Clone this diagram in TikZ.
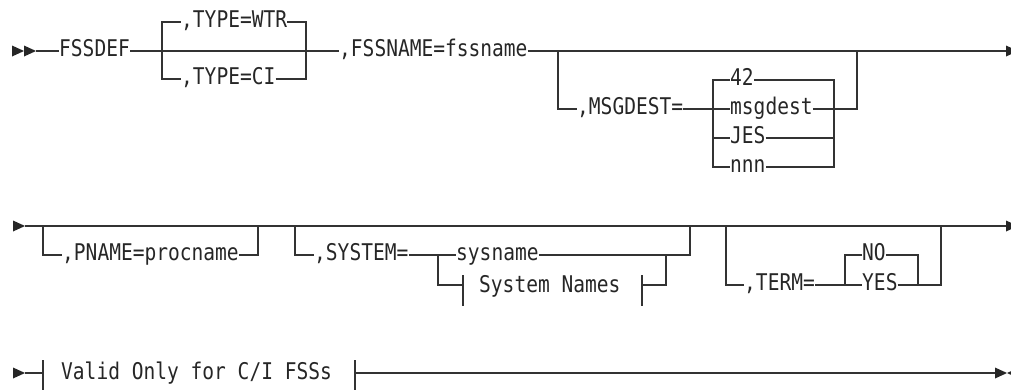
\documentclass[tikz,border=0pt]{standalone}
\usepackage{fontspec}
\newfontfamily\railfont[FakeStretch=0.85]{DejaVu Sans Mono}
\usetikzlibrary{arrows.meta}

\begin{document}
\begin{tikzpicture}[
    x=1pt, y=-1pt,
    kw/.style={
      inner sep=0pt,
      anchor=west,
      text height=17.4pt,
      text depth=6pt,
      font=\railfont\fontsize{23}{23}\selectfont,
      text=black!85
    },
    rail/.style={
      draw=black!80,
      line width=1.2pt
    },
    railtip/.pic={
      \fill[black!85] (0,-5.5) -- (12,0) -- (0,5.5) -- cycle;
    }
  ]
  \useasboundingbox (0,0) rectangle (1011,389);

  % row 1
  \node[kw] (fssdef)  at (59,51)   {FSSDEF};
  \node[kw] (wtr)     at (181,22)  {,TYPE=WTR};
  \node[kw] (ci)      at (181,79)  {,TYPE=CI};
  \node[kw] (fssname) at (339,51)  {,FSSNAME=fssname};
  \node[kw] (msgdest) at (577,109) {,MSGDEST=};
  \node[kw] (d42)     at (730,80)  {42};
  \node[kw] (dmsg)    at (730,109) {msgdest};
  \node[kw] (djes)    at (730,138) {JES};
  \node[kw] (dnnn)    at (730,167) {nnn};
  \coordinate (s1) at (36,51);
  \coordinate (e1) at (1006,51);
  \coordinate (t1) at (162,51);
  \coordinate (t2) at (306,51);
  \coordinate (m1) at (558,51);
  \coordinate (m2) at (857,51);
  \coordinate (ml) at (713,0);
  \coordinate (mr) at (834,0);

  \pic at (12,51) {railtip};
  \pic at (24,51) {railtip};
  \pic at (e1) {railtip};
  \draw[rail] (s1) -- (fssdef.west);
  \draw[rail] (fssdef.east) -- (fssname.west);
  \draw[rail] (t1) |- (wtr.west);
  \draw[rail] (wtr.east) -| (t2);
  \draw[rail] (t1) |- (ci.west);
  \draw[rail] (ci.east) -| (t2);
  \draw[rail] (fssname.east) -- (e1);
  \draw[rail] (m1) |- (msgdest.west);
  \draw[rail] (msgdest.east) -- (dmsg.west);
  \draw[rail] (d42.west) -| (ml |- dnnn.west) -- (dnnn.west);
  \draw[rail] (ml |- djes.west) -- (djes.west);
  \draw[rail] (d42.east) -| (mr |- dnnn.east) -- (dnnn.east);
  \draw[rail] (djes.east) -- (mr |- djes.east);
  \draw[rail] (dmsg.east) -| (m2);

  % row 2
  \node[kw] (pname)    at (62,255)  {,PNAME=procname};
  \node[kw] (system)   at (314,255) {,SYSTEM=};
  \node[kw] (sysname)  at (456,255) {sysname};
  \node[kw] (sysnames) at (479,287) {System Names};
  \node[kw] (term)     at (744,285) {,TERM=};
  \node[kw] (no)       at (862,255) {NO};
  \node[kw] (yes)      at (862,285) {YES};
  \coordinate (s2) at (25,226);
  \coordinate (e2) at (1006,226);
  \coordinate (p1) at (43,226);
  \coordinate (p2) at (258,226);
  \coordinate (y1) at (295,226);
  \coordinate (y2) at (690,226);
  \coordinate (yl) at (438,0);
  \coordinate (yr) at (666,0);
  \coordinate (k1) at (463,285);
  \coordinate (k2) at (642,285);
  \coordinate (r1) at (726,226);
  \coordinate (r2) at (941,226);
  \coordinate (tl) at (845,0);
  \coordinate (tr) at (918,0);

  \pic at (13,226) {railtip};
  \pic at (e2) {railtip};
  \draw[rail] (s2) -- (e2);
  \draw[rail] (p1) |- (pname.west);
  \draw[rail] (pname.east) -| (p2);
  \draw[rail] (y1) |- (system.west);
  \draw[rail] (system.east) -- (sysname.west);
  \draw[rail] (sysname.east) -| (y2);
  \draw[rail] (yl |- system.east) |- (k1);
  \draw[rail] (k2) -| (yr |- sysname.east);
  \draw[rail] ([yshift=10pt]k1) -- ([yshift=-21pt]k1);
  \draw[rail] ([yshift=10pt]k2) -- ([yshift=-21pt]k2);
  \draw[rail] (r1) |- (term.west);
  \draw[rail] (term.east) -- (yes.west);
  \draw[rail] (no.west) -| (tl |- yes.west);
  \draw[rail] (no.east) -| (tr |- yes.east);
  \draw[rail] (yes.east) -| (r2);

  % row 3
  \node[kw] (valid) at (61,374) {Valid Only for C/I FSSs};
  \coordinate (s3) at (25,373);
  \coordinate (e3) at (995,373);
  \coordinate (v1) at (43,373);
  \coordinate (v2) at (355,373);

  \pic at (13,373) {railtip};
  \pic at (e3) {railtip};
  \pic[rotate=180] at (1019,373) {railtip};
  \draw[rail] (s3) -- (v1);
  \draw[rail] (v2) -- (e3);
  \draw[rail] ([yshift=13pt]v1) -- ([yshift=-18pt]v1);
  \draw[rail] ([yshift=13pt]v2) -- ([yshift=-18pt]v2);
\end{tikzpicture}
\end{document}
